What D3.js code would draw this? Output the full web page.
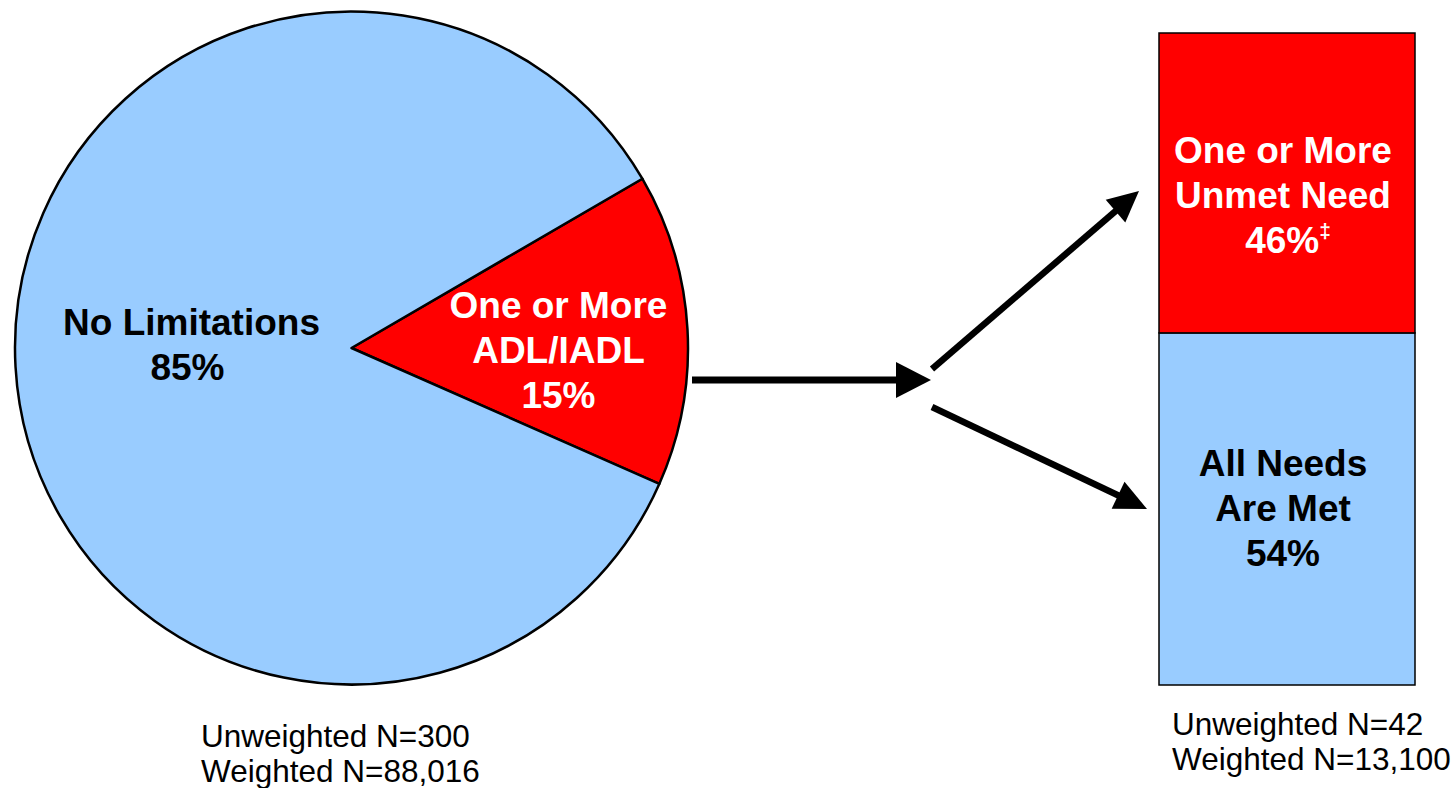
<!DOCTYPE html>
<html lang="en">
<head>
  <meta charset="UTF-8">
  <title>ADL/IADL Limitations and Unmet Need</title>
  <script src="https://cdnjs.cloudflare.com/ajax/libs/d3/7.8.5/d3.min.js"></script>
  <style>
    body { margin: 0; background: #fff; }
    text { font-family: "Liberation Sans", Arial, sans-serif; }
  </style>
</head>
<body>
  <svg width="1456" height="788"></svg>
  <script>
    // pie data
    const pieLabels = [["One or More", "ADL/IADL"], ["No Limitations"]];
    const pieValues = [15, 85];
    const pieColors = ["#ff0000", "#99ccff"];
    const pieTextColors = ["#fff", "#000"];

    // stacked bar data (bottom to top)
    const barLabels = [["All Needs", "Are Met"], ["One or More", "Unmet Need"]];
    const barValues = [54, 46];
    const barMarks = ["", "\u2021"];
    const barColors = ["#99ccff", "#ff0000"];
    const barTextColors = ["#000", "#fff"];

    const pieNotes = ["Unweighted N=300", "Weighted N=88,016"];
    const barNotes = ["Unweighted N=42", "Weighted N=13,100"];

    const svg = d3.select("svg");
    const bold = 37;

    // ---- pie ----
    const cx = 351.5, cy = 348, r = 336.5;
    const a0 = 59.8 * Math.PI / 180;
    const pie = d3.pie().sort(null).startAngle(a0).endAngle(a0 + 2 * Math.PI);
    const arc = d3.arc().innerRadius(0).outerRadius(r);
    const arcs = pie(pieValues);

    const pg = svg.append("g").attr("transform", `translate(${cx},${cy})`);
    pg.selectAll("path")
      .data(arcs)
      .enter().append("path")
      .attr("d", arc)
      .attr("fill", (d, i) => pieColors[i])
      .attr("stroke", "#000")
      .attr("stroke-width", 2.5)
      .attr("stroke-linejoin", "round");

    // label positions relative to centre
    const pieLabelPos = [[207, -30], [-160, -13]];
    arcs.forEach((d, i) => {
      const lines = pieLabels[i].concat([d.data + "%"]);
      const t = pg.append("text")
        .attr("text-anchor", "middle")
        .attr("font-weight", "bold")
        .attr("font-size", bold)
        .attr("fill", pieTextColors[i]);
      lines.forEach((s, j) => {
        t.append("tspan")
          .attr("x", pieLabelPos[i][0] + (i === 1 && j === 1 ? -4 : 0))
          .attr("y", pieLabelPos[i][1] + j * 45)
          .text(s);
      });
    });

    // ---- stacked bar ----
    const y = d3.scaleLinear().domain([0, 100]).range([685, 33]);
    const x = d3.scaleBand().domain(["bar"]).range([1159, 1415]);
    let acc = 0;
    const stack = barValues.map((v, i) => {
      const s = { i, v, y0: acc, y1: acc + v };
      acc += v;
      return s;
    });

    const bg = svg.append("g");
    bg.selectAll("rect")
      .data(stack)
      .enter().append("rect")
      .attr("x", x("bar"))
      .attr("width", x.bandwidth())
      .attr("y", d => y(d.y1))
      .attr("height", d => y(d.y0) - y(d.y1))
      .attr("fill", d => barColors[d.i])
      .attr("stroke", "#000")
      .attr("stroke-width", 1.5);

    const bx = x("bar") + x.bandwidth() / 2 - 4;
    stack.forEach(d => {
      const top = y(d.y1);
      const firstBase = d.i === 1 ? top + 130 : top + 143;
      const t = bg.append("text")
        .attr("text-anchor", "middle")
        .attr("font-weight", "bold")
        .attr("font-size", bold)
        .attr("fill", barTextColors[d.i]);
      barLabels[d.i].forEach((s, j) => {
        t.append("tspan").attr("x", bx).attr("y", firstBase + j * 45).text(s);
      });
      t.append("tspan").attr("x", bx + (barMarks[d.i] ? 5 : 0)).attr("y", firstBase + 90).text(d.v + "%");
      if (barMarks[d.i]) {
        t.append("tspan").attr("font-size", 21).attr("dy", -15).text(barMarks[d.i]);
      }
    });

    // ---- arrows ----
    function arrow(x1, y1, x2, y2, len, half, w) {
      const ang = Math.atan2(y2 - y1, x2 - x1);
      const bxp = x2 - len * Math.cos(ang), byp = y2 - len * Math.sin(ang);
      svg.append("line")
        .attr("x1", x1).attr("y1", y1)
        .attr("x2", bxp + Math.cos(ang)).attr("y2", byp + Math.sin(ang))
        .attr("stroke", "#000").attr("stroke-width", w);
      const px = -Math.sin(ang) * half, py = Math.cos(ang) * half;
      svg.append("path")
        .attr("d", `M${x2},${y2}L${bxp + px},${byp + py}L${bxp - px},${byp - py}Z`)
        .attr("fill", "#000");
    }
    arrow(692, 380, 931, 380, 35, 18, 7);
    arrow(932, 369, 1139, 191, 31, 15, 6.5);
    arrow(932, 407, 1147, 509, 32, 15, 6.5);

    // ---- notes ----
    function notes(lines, x0, y0) {
      const t = svg.append("text").attr("font-size", 31.5).attr("fill", "#000");
      lines.forEach((s, j) => t.append("tspan").attr("x", x0).attr("y", y0 + j * 35).text(s));
    }
    notes(pieNotes, 201, 747);
    notes(barNotes, 1172, 735);
  </script>
</body>
</html>
